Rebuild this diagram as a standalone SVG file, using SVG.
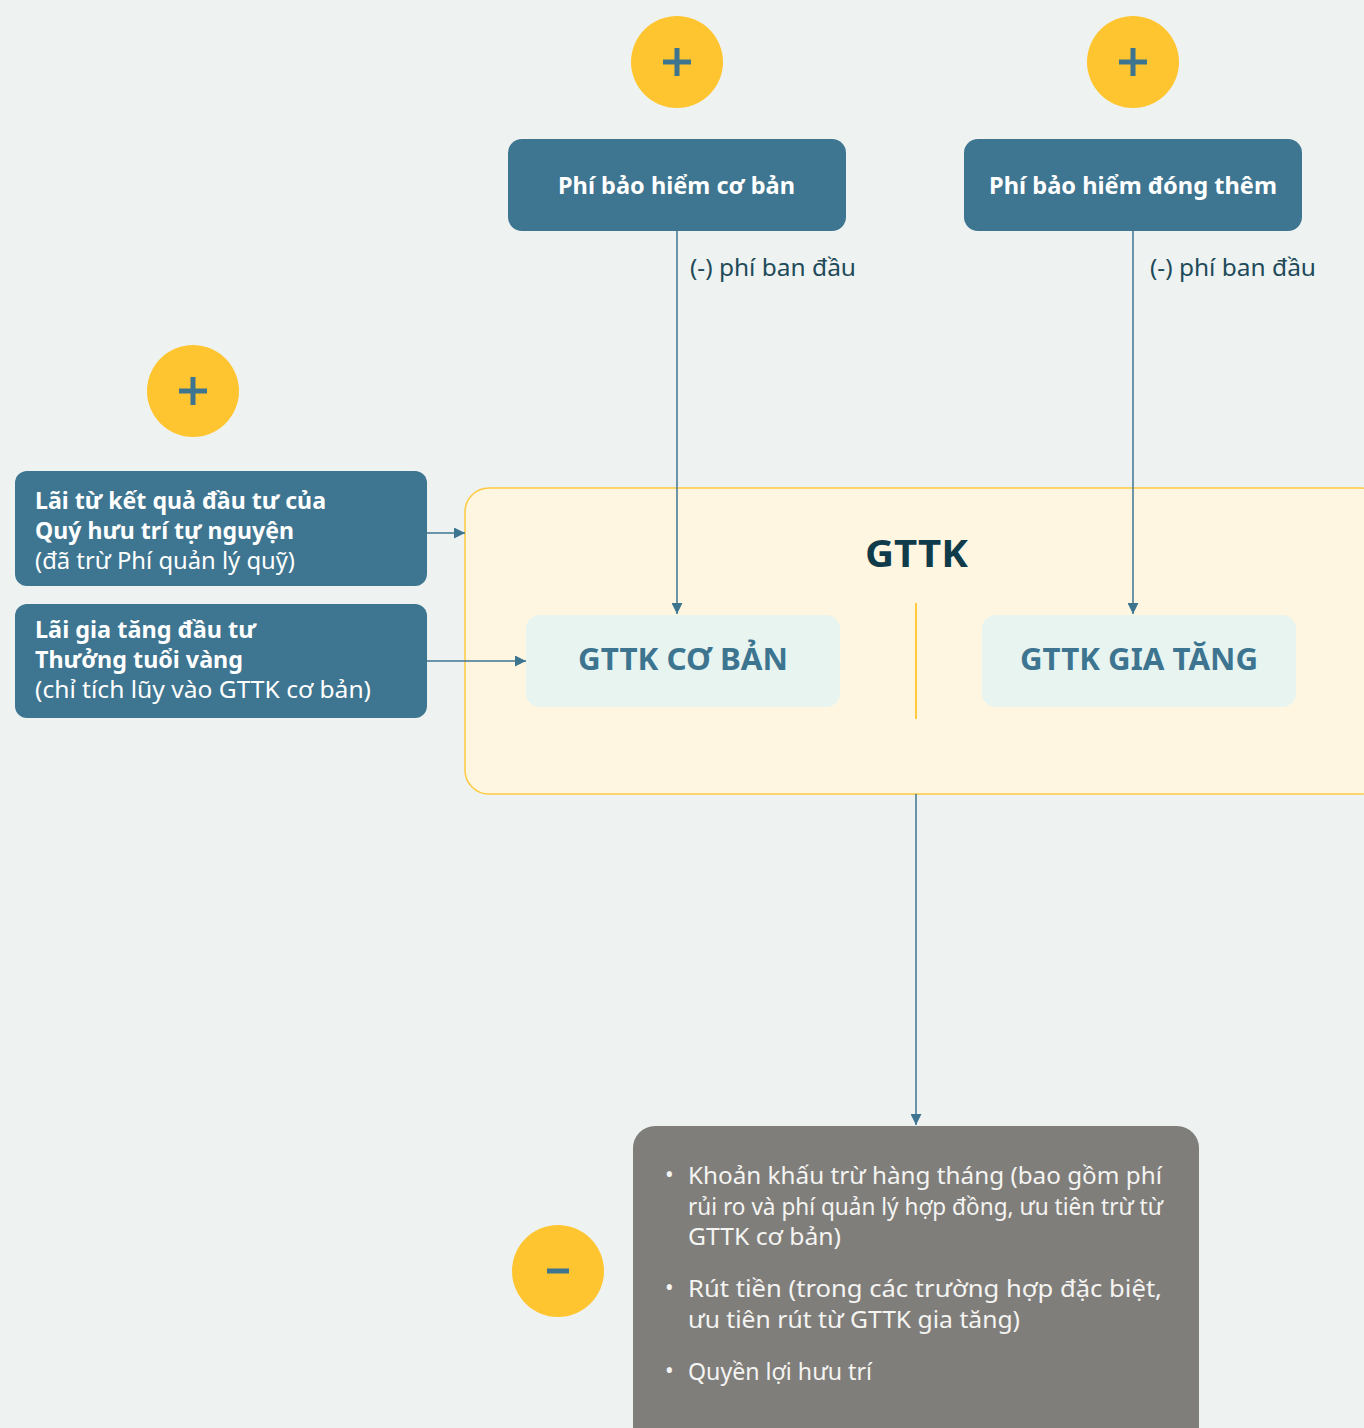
<svg xmlns="http://www.w3.org/2000/svg" width="1364" height="1428" viewBox="0 0 1364 1428">
<style>
.bg{fill:#EEF3F1}
.plus{fill:#FFC530}
.sign{stroke:#3D7590;stroke-width:5;fill:none}
.node{fill:#3E7590}
.nt{font-family:"Noto Sans","Open Sans",sans-serif;font-size:23px;fill:#FFFFFF}
.b{font-weight:bold}
.lbl{font-family:"Noto Sans","Open Sans",sans-serif;font-size:23px;fill:#1F4A5A}
.conn{stroke:#3D7590;stroke-width:1.5;fill:none}
.gt{fill:#FFF6E1;stroke:#FFC940;stroke-width:1.5}
.inner{fill:#E8F4F0}
.it{font-family:"Noto Sans","Open Sans",sans-serif;font-size:31px;font-weight:bold;fill:#3D7590}
.gray{fill:#807E7A}
.gtx{font-family:"Noto Sans","Open Sans",sans-serif;font-size:23px;fill:#F4F4F2}
</style>
<defs>
<marker id="ah" viewBox="0 0 10 10" refX="10" refY="5" markerWidth="11" markerHeight="11" markerUnits="userSpaceOnUse" orient="auto">
<path d="M0,0 L10,5 L0,10 Z" fill="#3D7590"/>
</marker>
</defs>
<rect class="bg" x="0" y="0" width="1364" height="1428"/>

<g id="plus1"><circle class="plus" cx="677" cy="62" r="46"/><path class="sign" d="M663,62 H691 M677,48 V76"/></g>
<g id="plus2"><circle class="plus" cx="1133" cy="62" r="46"/><path class="sign" d="M1119,62 H1147 M1133,48 V76"/></g>
<g id="plus3"><circle class="plus" cx="193" cy="391" r="46"/><path class="sign" d="M179,391 H207 M193,377 V405"/></g>
<g id="minus"><circle class="plus" cx="558" cy="1271" r="46"/><path class="sign" d="M547,1271 H569"/></g>

<g id="gttk">
<rect class="gt" x="465" y="488" width="920" height="306" rx="24"/>
<text x="865" y="567" textLength="103" lengthAdjust="spacingAndGlyphs" font-family="Noto Sans,Open Sans,sans-serif" font-size="37" font-weight="bold" fill="#0F3B4A">GTTK</text>
<line x1="916" y1="603" x2="916" y2="719" stroke="#FFC940" stroke-width="2"/>
</g>
<g id="gttk-co-ban">
<rect class="inner" x="526" y="615" width="314" height="92" rx="14"/>
<text class="it" x="578" y="670" textLength="210" lengthAdjust="spacingAndGlyphs">GTTK CƠ BẢN</text>
</g>
<g id="gttk-gia-tang">
<rect class="inner" x="982" y="615" width="314" height="92" rx="14"/>
<text class="it" x="1020" y="670" textLength="238" lengthAdjust="spacingAndGlyphs">GTTK GIA TĂNG</text>
</g>

<g id="phi-co-ban">
<rect class="node" x="508" y="139" width="338" height="92" rx="14"/>
<text class="nt b" x="558" y="194" textLength="237" lengthAdjust="spacingAndGlyphs">Phí bảo hiểm cơ bản</text>
</g>
<g id="phi-dong-them">
<rect class="node" x="964" y="139" width="338" height="92" rx="14"/>
<text class="nt b" x="989" y="194" textLength="288" lengthAdjust="spacingAndGlyphs">Phí bảo hiểm đóng thêm</text>
</g>

<g id="lai-quy">
<rect class="node" x="15" y="471" width="412" height="115" rx="12"/>
<text class="nt b" x="35" y="509" textLength="291" lengthAdjust="spacingAndGlyphs">Lãi từ kết quả đầu tư của</text>
<text class="nt b" x="35" y="539" textLength="259" lengthAdjust="spacingAndGlyphs">Quý hưu trí tự nguyện</text>
<text class="nt" x="35" y="569" textLength="260" lengthAdjust="spacingAndGlyphs">(đã trừ Phí quản lý quỹ)</text>
</g>
<g id="lai-gia-tang">
<rect class="node" x="15" y="604" width="412" height="114" rx="12"/>
<text class="nt b" x="35" y="638" textLength="221" lengthAdjust="spacingAndGlyphs">Lãi gia tăng đầu tư</text>
<text class="nt b" x="35" y="668" textLength="208" lengthAdjust="spacingAndGlyphs">Thưởng tuổi vàng</text>
<text class="nt" x="35" y="698" textLength="336" lengthAdjust="spacingAndGlyphs">(chỉ tích lũy vào GTTK cơ bản)</text>
</g>

<g id="khau-tru">
<rect class="gray" x="633" y="1126" width="566" height="330" rx="22"/>
<g class="gtx">
<text x="665" y="1183">•</text>
<text x="688" y="1184" textLength="474" lengthAdjust="spacingAndGlyphs">Khoản khấu trừ hàng tháng (bao gồm phí</text>
<text x="688" y="1215" textLength="475" lengthAdjust="spacingAndGlyphs">rủi ro và phí quản lý hợp đồng, ưu tiên trừ từ</text>
<text x="688" y="1245" textLength="153" lengthAdjust="spacingAndGlyphs">GTTK cơ bản)</text>
<text x="665" y="1296">•</text>
<text x="688" y="1297" textLength="474" lengthAdjust="spacingAndGlyphs">Rút tiền (trong các trường hợp đặc biệt,</text>
<text x="688" y="1328" textLength="332" lengthAdjust="spacingAndGlyphs">ưu tiên rút từ GTTK gia tăng)</text>
<text x="665" y="1379">•</text>
<text x="688" y="1380" textLength="184" lengthAdjust="spacingAndGlyphs">Quyền lợi hưu trí</text>
</g>
</g>

<g id="connectors">
<line class="conn" x1="677" y1="231" x2="677" y2="614" marker-end="url(#ah)"/>
<line class="conn" x1="1133" y1="231" x2="1133" y2="614" marker-end="url(#ah)"/>
<line class="conn" x1="427" y1="533" x2="465" y2="533" marker-end="url(#ah)"/>
<line class="conn" x1="427" y1="661" x2="526" y2="661" marker-end="url(#ah)"/>
<line class="conn" x1="916" y1="794" x2="916" y2="1125" marker-end="url(#ah)"/>
<text class="lbl" x="690" y="276" textLength="166" lengthAdjust="spacingAndGlyphs">(-) phí ban đầu</text>
<text class="lbl" x="1150" y="276" textLength="166" lengthAdjust="spacingAndGlyphs">(-) phí ban đầu</text>
</g>
</svg>
